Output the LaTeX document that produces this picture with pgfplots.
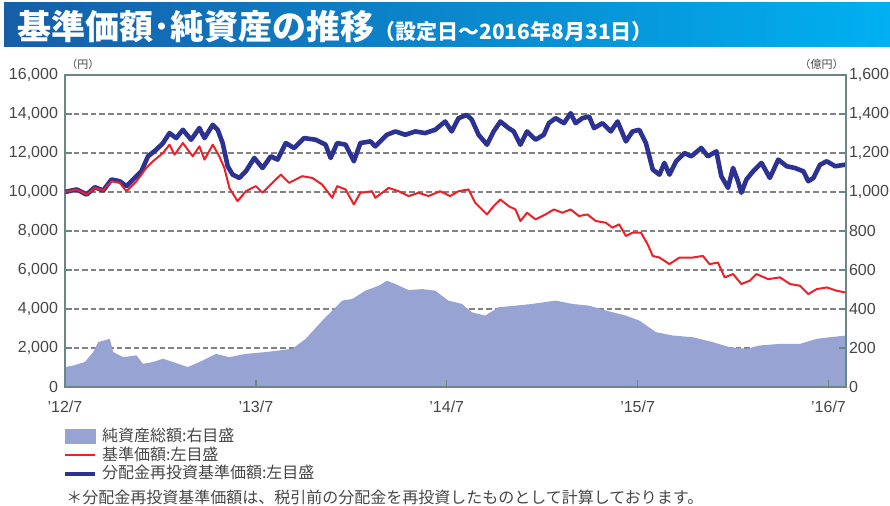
\documentclass[border=0pt]{standalone}
\usepackage{fontspec}
\setmainfont{Liberation Sans}
\newfontfamily\cjk{Noto Sans CJK JP}
\usepackage{pgfplots}
\pgfplotsset{compat=1.18}
\definecolor{areac}{RGB}{151,163,211}
\definecolor{bluec}{RGB}{43,50,145}
\definecolor{redc}{RGB}{237,32,40}
\definecolor{framec}{RGB}{105,135,135}
\definecolor{gridc}{RGB}{130,130,130}
\definecolor{titleL}{RGB}{22,94,168}
\definecolor{titleR}{RGB}{0,176,240}
\definecolor{txtc}{RGB}{70,70,70}

\pgfplotstableread{
m v
0.00 10000
0.73 10130
1.36 9870
1.88 10245
2.40 10075
2.92 10640
3.44 10550
3.86 10300
4.28 10640
4.80 11060
5.22 11830
5.74 12170
6.16 12510
6.57 13020
6.99 12765
7.41 13190
7.93 12680
8.45 13280
8.77 12765
9.29 13445
9.60 13190
9.91 12510
10.23 11320
10.54 10890
10.96 10720
11.37 11060
11.90 11745
12.42 11230
12.94 11830
13.36 11660
13.88 12510
14.40 12255
15.03 12765
15.76 12680
16.38 12425
16.70 11745
17.11 12510
17.64 12425
18.16 11575
18.57 12510
19.20 12595
19.51 12340
20.24 12935
20.77 13105
21.39 12935
22.02 13105
22.64 13020
23.27 13190
23.90 13615
24.31 13105
24.74 13785
25.26 13955
25.58 13700
26.00 12935
26.53 12425
26.95 13105
27.37 13615
27.89 13275
28.21 13105
28.63 12425
29.05 13105
29.58 12680
30.10 12935
30.42 13530
30.84 13785
31.37 13530
31.79 14040
32.10 13530
32.53 13785
32.95 13870
33.26 13275
33.79 13530
34.31 13105
34.74 13615
35.26 12595
35.68 13105
36.10 13190
36.52 12510
36.95 11150
37.37 10890
37.68 11490
38.00 10890
38.42 11575
38.95 12000
39.37 11830
40.00 12255
40.42 11830
40.95 12085
41.26 10810
41.68 10210
42.00 11235
42.31 10550
42.52 9960
42.84 10640
43.26 11060
43.79 11490
44.31 10720
44.84 11660
45.37 11320
45.89 11230
46.42 11060
46.73 10550
47.05 10720
47.47 11400
47.89 11575
48.42 11320
49.05 11400
}\bluedata

\pgfplotstableread{
m v
0.00 10000
0.73 10130
1.36 9870
1.88 10210
2.40 10075
2.92 10550
3.44 10470
3.86 10040
4.49 10550
5.11 11230
5.53 11575
6.16 12000
6.57 12425
6.89 11915
7.41 12510
8.03 11830
8.45 12340
8.77 11660
9.29 12425
9.70 11830
10.02 11230
10.33 10210
10.85 9530
11.37 10040
12.00 10300
12.42 9960
13.04 10470
13.57 10890
14.09 10470
14.92 10810
15.55 10720
16.17 10380
16.80 9700
17.11 10300
17.64 10130
18.16 9360
18.57 9960
19.30 10040
19.51 9700
20.35 10210
20.97 10040
21.60 9790
22.23 9960
22.85 9790
23.58 10040
24.21 9790
24.74 10040
25.37 10130
25.79 9445
26.53 8850
26.95 9275
27.37 9615
27.89 9275
28.32 9105
28.63 8510
29.05 8935
29.58 8595
30.21 8850
30.74 9105
31.26 8935
31.79 9105
32.31 8765
32.84 8850
33.37 8510
34.00 8425
34.42 8170
34.84 8340
35.26 7745
35.68 7915
36.21 7915
36.63 7320
36.95 6720
37.37 6640
38.00 6300
38.63 6640
39.47 6640
40.10 6720
40.52 6300
41.05 6380
41.47 5620
42.00 5790
42.52 5280
43.05 5450
43.47 5790
44.21 5530
44.95 5620
45.58 5280
46.21 5190
46.73 4765
47.26 5020
47.89 5105
48.52 4935
49.05 4850
}\reddata

\pgfplotstableread{
m v
0.00 102
0.52 110
1.25 128
1.77 179
2.09 230
2.82 247
3.03 179
3.65 153
4.49 162
4.90 119
5.53 128
6.16 145
6.78 128
7.72 102
8.45 128
9.50 170
10.33 153
11.37 170
12.63 179
14.30 196
15.13 247
16.17 340
17.43 443
18.05 451
18.89 494
19.72 519
20.24 545
20.77 528
21.60 497
22.44 502
23.27 494
24.10 443
24.95 426
25.58 383
26.42 366
27.26 409
28.32 417
29.37 426
30.84 443
31.89 426
32.95 417
34.00 392
35.26 366
36.10 341
37.16 281
38.21 264
39.47 255
40.73 230
41.79 204
42.84 196
43.68 213
44.95 221
46.21 221
47.26 247
48.10 255
49.10 264
}\areadata

\pgfplotsset{
  base/.style={
    at={(32.5pt,59.5pt)}, anchor=south west,
    scale only axis, width=390.5pt, height=156pt,
    xmin=0, xmax=49.1,
    scaled y ticks=false,
    /pgf/number format/.cd, 1000 sep={,}, assume math mode=true,
    /pgfplots/.cd,
    tick label style={font=\fontsize{8}{9}\selectfont, text=txtc},
  }
}

\begin{document}
\begin{tikzpicture}
% title bar
\shade[left color=titleL, right color=titleR] (2pt,229.5pt) rectangle (445pt,251.5pt);
\node[anchor=west, text=white, inner sep=0pt] at (8.5pt,239.5pt)
  {\cjk\bfseries{\fontsize{17}{17}\selectfont 基準価額･純資産の推移}{\fontsize{10.5}{10.5}\selectfont（設定日～2016年8月31日）}};

% axis 1: grid only
\begin{axis}[base,
  ymin=0, ymax=16000, ytick={0,2000,...,16000},
  xtick=\empty, yticklabels={},
  ymajorgrids, major tick length=0pt,
  grid style={gridc, dash pattern=on 2.8pt off 1.5pt, line width=0.6pt},
  axis line style={draw=none}]
\addplot[draw=none] coordinates {(0,0)};
\end{axis}

% axis 2: net assets (right scale)
\begin{axis}[base, ymin=0, ymax=1600, hide axis]
\addplot[fill=areac, draw=none] table[x=m,y=v] {\areadata} \closedcycle;
\end{axis}

% axis 3: lines (left scale)
\begin{axis}[base,
  ymin=0, ymax=16000, ytick={0,2000,...,16000},
  xtick={0,12,24,36,48},
  xticklabels={'12/7,'13/7,'14/7,'15/7,'16/7},
  xticklabel style={yshift=-3.5pt},
  tick pos=left, major tick length=3.5pt,
  tick style={framec, line width=0.7pt},
  axis line style={framec, line width=1pt},
  legend style={at={(rel axis cs:-0.003,-0.128)}, anchor=north west,
    draw=none, fill=none, inner sep=0pt, row sep=0pt,
    font=\cjk\fontsize{8}{9}\selectfont, text=txtc,
    nodes={inner ysep=0.5pt, inner xsep=2.5pt}},
  legend cell align=left]
\addlegendimage{legend image code/.code={\fill[areac] (0pt,-3.5pt) rectangle (15pt,3.5pt);}}
\addlegendentry{純資産総額:右目盛}
\addlegendimage{legend image code/.code={\draw[redc, line width=1pt] (0pt,0pt) -- (15pt,0pt);}}
\addlegendentry{基準価額:左目盛}
\addlegendimage{legend image code/.code={\draw[bluec, line width=2pt] (0pt,0pt) -- (15pt,0pt);}}
\addlegendentry{分配金再投資基準価額:左目盛}
\addplot[bluec, line width=2.3pt, line join=round] table[x=m,y=v] {\bluedata};
\addplot[redc, line width=1pt, line join=round] table[x=m,y=v] {\reddata};
\end{axis}

% axis 4: right scale labels
\begin{axis}[base,
  ymin=0, ymax=1600, ytick={0,200,...,1600},
  axis x line=none, axis y line*=right,
  ytick pos=right, yticklabel pos=right,
  yticklabel style={inner xsep=0.8pt, xshift=0.5pt},
  major tick length=3.5pt,
  tick style={framec, line width=0.7pt},
  axis line style={framec, line width=1pt}]
\addplot[draw=none] coordinates {(0,0)};
\end{axis}

\node[anchor=west, inner sep=0pt, text=txtc, font=\cjk\fontsize{5.5}{6}\selectfont] at (33pt,221pt) {（円）};
\node[anchor=east, inner sep=0pt, text=txtc, font=\cjk\fontsize{5.5}{6}\selectfont] at (422pt,221pt) {（億円）};
\node[anchor=west, inner sep=0pt, text=txtc, font=\cjk\fontsize{8}{9}\selectfont] at (33pt,4.5pt) {＊分配金再投資基準価額は、税引前の分配金を再投資したものとして計算しております。};

\pgfresetboundingbox
\path (0pt,0pt) rectangle (445pt,253pt);
\end{tikzpicture}
\end{document}
